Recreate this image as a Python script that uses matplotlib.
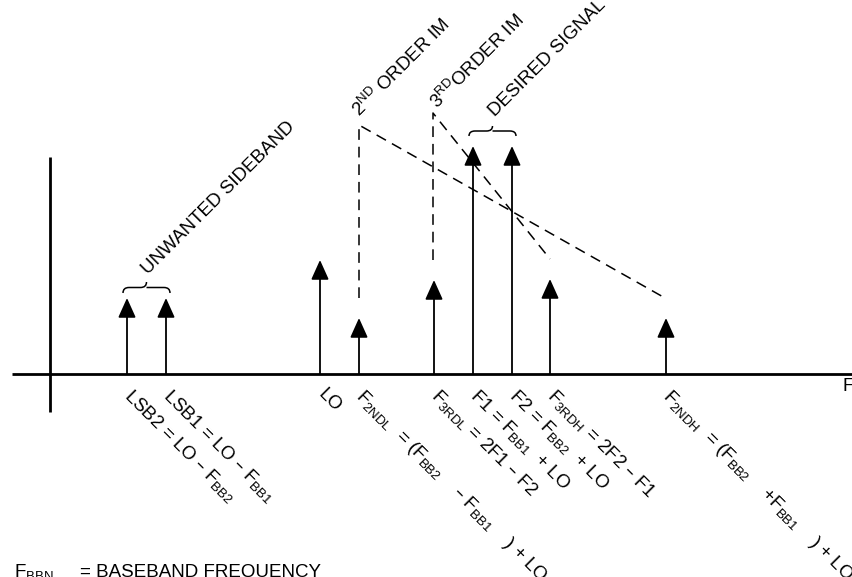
import matplotlib.pyplot as plt
from matplotlib.path import Path
from matplotlib.patches import PathPatch

plt.rcParams['font.family'] = ['Liberation Sans', 'DejaVu Sans']
plt.rcParams['mathtext.default'] = 'regular'

# tones on the frequency axis (pixel-like units) and their heights
tones = ["LSB2", "LSB1", "LO", "F2NDL", "F3RDL", "F1", "F2", "F3RDH", "F2NDH"]
freq = [127, 166, 320, 359, 434, 473, 512, 550, 666]
level = [76, 76, 114, 56, 94, 228, 228, 95, 56]

labels = [
    r"LSB2 = LO – $F_{BB2}$",
    r"LSB1 = LO – $F_{BB1}$",
    r"LO",
    r"$F_{2NDL}$  = ($F_{BB2}$    – $F_{BB1}$    ) + LO",
    r"$F_{3RDL}$ = 2F1 – F2",
    r"F1 = $F_{BB1}$  + LO",
    r"F2 = $F_{BB2}$  + LO",
    r"$F_{3RDH}$ = 2F2 – F1",
    r"$F_{2NDH}$  = ($F_{BB2}$    +$F_{BB1}$    ) + LO",
]

FS = 13.5

def brace(ax, x0, x1, y, h):
    xm = (x0 + x1) / 2
    q = 6
    verts = [(x0, y), (x0, y + h / 2), (x0 + q, y + h / 2),
             (xm - q, y + h / 2), (xm, y + h / 2), (xm, y + h),
             (xm, y + h / 2), (xm + q, y + h / 2),
             (x1 - q, y + h / 2), (x1, y + h / 2), (x1, y)]
    codes = [Path.MOVETO, Path.CURVE3, Path.CURVE3,
             Path.LINETO, Path.CURVE3, Path.CURVE3,
             Path.MOVETO, Path.CURVE3,
             Path.LINETO, Path.CURVE3, Path.CURVE3]
    ax.add_patch(PathPatch(Path(verts, codes), fill=False, lw=1.1, color='black'))

fig = plt.figure(figsize=(8.52, 5.77), dpi=100)
ax = fig.add_axes([0, 0, 1, 1])
ax.set_xlim(0, 852)
ax.set_ylim(374 - 577, 374)
ax.axis('off')

# axes
ax.plot([12, 852], [0, 0], color='black', lw=2.0, solid_capstyle='butt')
ax.plot([50, 50], [-38, 217], color='black', lw=2.0, solid_capstyle='butt')
ax.text(843, -4, "F", fontsize=FS, ha='left', va='top')

# tones
for x, h in zip(freq, level):
    ax.annotate('', xy=(x, h), xytext=(x, 0),
                arrowprops=dict(arrowstyle='-|>,head_length=0.8,head_width=0.36',
                                mutation_scale=15, lw=1.3, color='black',
                                shrinkA=0, shrinkB=0))

# labels under the axis
for x, s in zip(freq, labels):
    ax.text(x + 7, -12, s, fontsize=FS, rotation=-45, rotation_mode='anchor',
            ha='left', va='top')

# intermod guide lines
dash = dict(color='black', lw=1.1, dashes=(7, 4.5))
ax.plot([359, 359, 665], [76, 249, 76], **dash)
ax.plot([433, 433, 550], [114, 261, 115], **dash)

# braces and group labels
brace(ax, 123, 170, 81, 11)
brace(ax, 469, 516, 238, 10)
ax.text(148, 374 - 275, "UNWANTED SIDEBAND", fontsize=FS, rotation=45,
        rotation_mode='anchor', ha='left', va='baseline')
ax.text(360, 374 - 118, r"2$^{ND}$ ORDER IM", fontsize=FS, rotation=45,
        rotation_mode='anchor', ha='left', va='baseline')
ax.text(438, 374 - 110, r"3$^{RD}$ORDER IM", fontsize=FS, rotation=45,
        rotation_mode='anchor', ha='left', va='baseline')
ax.text(495, 374 - 117, "DESIRED SIGNAL", fontsize=FS, rotation=45,
        rotation_mode='anchor', ha='left', va='baseline')

# footnote
ax.text(14, 374 - 577, r"$F_{BBN}$", fontsize=FS, ha='left', va='baseline')
ax.text(80, 374 - 577, "= BASEBAND FREQUENCY", fontsize=FS, ha='left', va='baseline')

fig.savefig('out.png', dpi=100)
